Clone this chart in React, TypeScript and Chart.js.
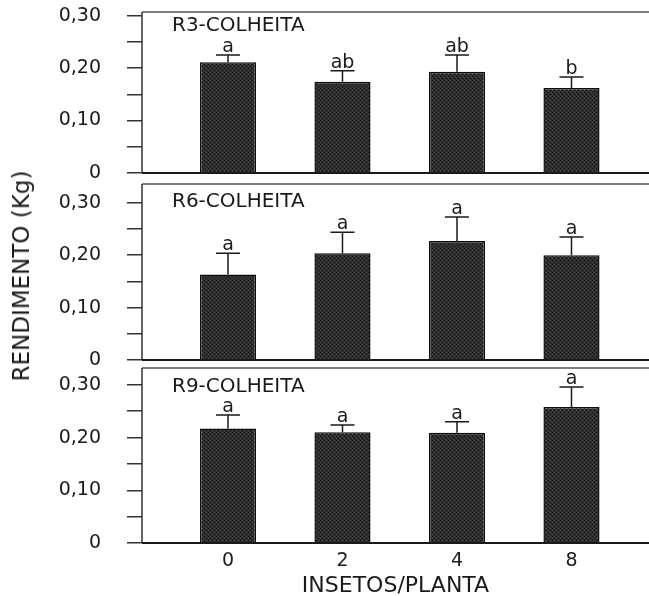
import { useEffect, useRef } from 'react';
import { Chart, registerables } from 'chart.js';

Chart.register(...registerables);

// x categories (insects per plant) and their slots on the linear axis
const xPos = [0, 1, 2, 3];
const xLabels = ['0', '2', '4', '8'];
const yTicks = [0, 0.05, 0.1, 0.15, 0.2, 0.25, 0.3];

const r3Mean = [0.211, 0.174, 0.193, 0.162];
const r3Se = [0.014, 0.021, 0.032, 0.021];
const r3Letters = ['a', 'ab', 'ab', 'b'];

const r6Mean = [0.163, 0.204, 0.227, 0.2];
const r6Se = [0.041, 0.04, 0.046, 0.035];
const r6Letters = ['a', 'a', 'a', 'a'];

const r9Mean = [0.217, 0.21, 0.209, 0.258];
const r9Se = [0.026, 0.014, 0.021, 0.038];
const r9Letters = ['a', 'a', 'a', 'a'];

const FONT = "'DejaVu Sans', sans-serif";
const INK = '#1a1a1a';
const X_MIN = -0.751;
const X_MAX = 3.677;
const PAD = 40;

function fmtTick(v: number): string {
  if (v === 0) return '0';
  if (Math.round(v * 100) % 10 !== 0) return '';
  return v.toFixed(2).replace('.', ',');
}

// fine stipple like the printed bar shading
function barPattern(): CanvasPattern | string {
  const c = document.createElement('canvas');
  c.width = 4;
  c.height = 4;
  const g = c.getContext('2d');
  if (!g) return '#2e2e2e';
  g.fillStyle = '#2e2e2e';
  g.fillRect(0, 0, 4, 4);
  g.fillStyle = '#141414';
  g.fillRect(0, 0, 1, 1);
  g.fillRect(2, 2, 1, 1);
  g.fillStyle = '#454545';
  g.fillRect(2, 0, 1, 1);
  g.fillRect(0, 2, 1, 1);
  return g.createPattern(c, 'repeat') ?? '#2e2e2e';
}

interface PanelProps {
  title: string;
  means: number[];
  se: number[];
  letters: string[];
  yMax: number;
  areaTop: number;
  areaHeight: number;
  titleDy: number;
  showX: boolean;
}

function Panel({ title, means, se, letters, yMax, areaTop, areaHeight, titleDy, showX }: PanelProps): JSX.Element {
  const canvasRef = useRef<HTMLCanvasElement>(null);
  const xAxisH = 56;
  const height = PAD + areaHeight + (showX ? xAxisH : PAD);

  useEffect(() => {
    if (!canvasRef.current) return;

    const panelPlugin = {
      id: 'panelDecor',
      afterDatasetsDraw(chart: Chart): void {
        const { ctx, chartArea: a, scales } = chart;
        const xs = scales['x'];
        const ys = scales['y'];
        ctx.save();

        // error bars + significance letters
        ctx.strokeStyle = INK;
        ctx.lineWidth = 1.5;
        ctx.fillStyle = INK;
        ctx.font = `19px ${FONT}`;
        ctx.textAlign = 'center';
        ctx.textBaseline = 'alphabetic';
        means.forEach((m, i) => {
          const cx = xs.getPixelForValue(xPos[i]);
          const y0 = ys.getPixelForValue(m);
          const y1 = ys.getPixelForValue(m + se[i]);
          ctx.beginPath();
          ctx.moveTo(cx, y0);
          ctx.lineTo(cx, y1);
          ctx.moveTo(cx - 12, y1);
          ctx.lineTo(cx + 12, y1);
          ctx.stroke();
          ctx.fillText(letters[i], cx, y1 - 3);
        });

        // frame (right side runs off the page in the original)
        ctx.strokeStyle = '#555';
        ctx.lineWidth = 1.5;
        ctx.beginPath();
        ctx.moveTo(a.left, a.top);
        ctx.lineTo(a.right, a.top);
        ctx.stroke();
        ctx.strokeStyle = '#333';
        ctx.beginPath();
        ctx.moveTo(a.left, a.top);
        ctx.lineTo(a.left, a.bottom);
        ctx.stroke();
        ctx.strokeStyle = '#1a1a1a';
        ctx.lineWidth = 2;
        ctx.beginPath();
        ctx.moveTo(a.left, a.bottom);
        ctx.lineTo(a.right, a.bottom);
        ctx.stroke();

        // panel label
        ctx.font = `20px ${FONT}`;
        ctx.textAlign = 'left';
        ctx.textBaseline = 'middle';
        ctx.fillText(title, a.left + 30, a.top + titleDy);
        ctx.restore();
      },
    };

    const chart = new Chart(canvasRef.current, {
      type: 'bar',
      plugins: [panelPlugin],
      data: {
        datasets: [
          {
            data: xPos.map((x, i) => ({ x, y: means[i] })),
            backgroundColor: barPattern(),
            borderColor: '#0d0d0d',
            borderWidth: 1.5,
            barPercentage: 0.49,
            categoryPercentage: 1,
          },
        ],
      },
      options: {
        animation: false,
        responsive: true,
        maintainAspectRatio: false,
        layout: { padding: { top: PAD, bottom: showX ? 0 : PAD, left: 0, right: 0 } },
        font: { family: FONT },
        plugins: { legend: { display: false }, tooltip: { enabled: false } },
        scales: {
          x: {
            type: 'linear',
            min: X_MIN,
            max: X_MAX,
            offset: false,
            display: showX,
            grid: { display: false, drawTicks: false },
            border: { display: false },
            afterBuildTicks: s => { s.ticks = xPos.map(v => ({ value: v })); },
            afterFit: s => { s.height = showX ? xAxisH : 0; },
            ticks: {
              autoSkip: false,
              maxRotation: 0,
              padding: 7,
              color: INK,
              font: { family: FONT, size: 19 },
              callback: (_v, i) => xLabels[i],
            },
            title: {
              display: true,
              text: 'INSETOS/PLANTA',
              color: INK,
              font: { family: FONT, size: 22 },
              padding: { top: 0, bottom: 0 },
            },
          },
          y: {
            min: 0,
            max: yMax,
            afterBuildTicks: s => { s.ticks = yTicks.map(v => ({ value: v })); },
            afterFit: s => { s.width = 142; },
            grid: { drawOnChartArea: false, tickLength: 15, color: '#333', lineWidth: 1.5 },
            border: { display: false },
            ticks: {
              autoSkip: false,
              padding: 26,
              color: INK,
              font: { family: FONT, size: 19 },
              callback: v => fmtTick(Number(v)),
            },
          },
        },
      },
    });

    return () => { chart.destroy(); };
  }, [title, means, se, letters, yMax, titleDy, showX]);

  return (
    <div style={{ position: 'absolute', left: 0, top: areaTop - PAD, width: 649, height }}>
      <canvas ref={canvasRef} role="img" aria-label={`${title} bar chart`} />
    </div>
  );
}

export default function App(): JSX.Element {
  return (
    <div
      style={{
        position: 'absolute',
        left: 0,
        top: 0,
        width: 649,
        height: 596,
        overflow: 'hidden',
        background: '#fff',
        fontFamily: FONT,
      }}
    >
      <Panel title="R3-COLHEITA" means={r3Mean} se={r3Se} letters={r3Letters} yMax={0.307} areaTop={12} areaHeight={161} titleDy={14} showX={false} />
      <Panel title="R6-COLHEITA" means={r6Mean} se={r6Se} letters={r6Letters} yMax={0.336} areaTop={184} areaHeight={176} titleDy={18} showX={false} />
      <Panel title="R9-COLHEITA" means={r9Mean} se={r9Se} letters={r9Letters} yMax={0.332} areaTop={368} areaHeight={175} titleDy={19} showX={true} />
      <div
        style={{
          position: 'absolute',
          left: 21,
          top: 276,
          transform: 'translate(-50%, -50%) rotate(-90deg)',
          whiteSpace: 'nowrap',
          fontSize: 23,
          color: INK,
        }}
      >
        RENDIMENTO (Kg)
      </div>
    </div>
  );
}
